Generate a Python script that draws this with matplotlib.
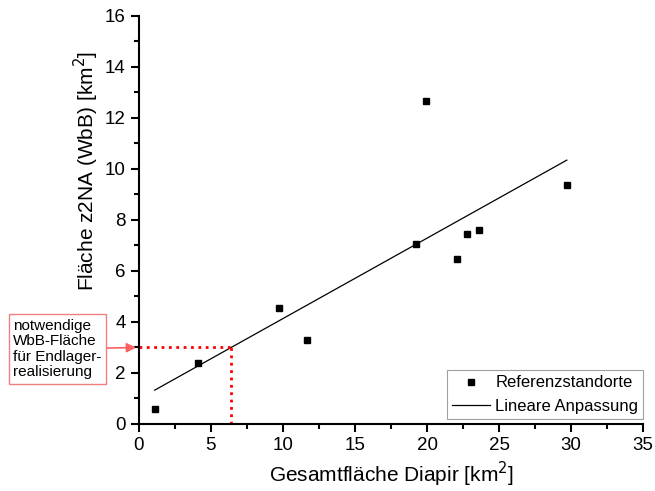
import numpy as np
import matplotlib.pyplot as plt
from matplotlib.ticker import MultipleLocator

plt.rcParams['font.family'] = ['Liberation Sans', 'DejaVu Sans']

# Referenzstandorte
gesamtflaeche = [1.1, 4.1, 9.7, 11.7, 19.2, 19.9, 22.1, 22.8, 23.6, 29.7]
flaeche_z2na = [0.59, 2.40, 4.55, 3.29, 7.07, 12.68, 6.48, 7.46, 7.60, 9.37]
bedarf = 3.0

x = np.array(gesamtflaeche)
y = np.array(flaeche_z2na)
m, b = np.polyfit(x, y, 1)
xs = np.array([x.min(), x.max()])
x_bedarf = (bedarf - b) / m

fig = plt.figure(figsize=(6.55, 4.91), dpi=100)
ax = fig.add_axes([0.212, 0.1365, 0.770, 0.831])

ax.plot(x, y, 's', color='black', markersize=4, label='Referenzstandorte')
ax.plot(xs, m * xs + b, '-', color='black', lw=0.9, label='Lineare Anpassung')
ax.plot([0, x_bedarf], [bedarf, bedarf], ':', color='red', lw=2)
ax.plot([x_bedarf, x_bedarf], [0, bedarf], ':', color='red', lw=2)

ax.set_xlim(0, 35)
ax.set_ylim(0, 16)
ax.xaxis.set_major_locator(MultipleLocator(5))
ax.xaxis.set_minor_locator(MultipleLocator(2.5))
ax.yaxis.set_major_locator(MultipleLocator(2))
ax.yaxis.set_minor_locator(MultipleLocator(1))
for s in ['top', 'right']:
    ax.spines[s].set_visible(False)
for s in ['left', 'bottom']:
    ax.spines[s].set_linewidth(1.5)
ax.tick_params(which='major', length=6, width=1.5, labelsize=13.5)
ax.tick_params(which='minor', length=3.5, width=1.5)

ax.set_xlabel('Gesamtfläche Diapir [km$^2$]', fontsize=15, labelpad=4)
ax.set_ylabel('Fläche z2NA (WbB) [km$^2$]', fontsize=15)
ax.yaxis.set_label_coords(-0.075, 0.62)

leg = ax.legend(loc='lower right', fontsize=12, frameon=True, fancybox=False,
                borderpad=0.3, handlelength=2.3, handletextpad=0.3,
                borderaxespad=0.0, bbox_to_anchor=(1.0, 0.013))
leg.get_frame().set_edgecolor('#888888')
leg.get_frame().set_linewidth(0.8)

ax.annotate('notwendige\nWbB-Fläche\nfür Endlager-\nrealisierung',
            xy=(0, bedarf), xycoords='data',
            xytext=(0.02, 1 - 349 / 491), textcoords='figure fraction',
            va='center', ha='left', fontsize=11, linespacing=1.15,
            bbox=dict(boxstyle='square,pad=0.3', fc='white', ec='#f08080', lw=1),
            arrowprops=dict(arrowstyle='-|>', color='#ff6060', lw=1.2,
                            mutation_scale=14, shrinkA=0, shrinkB=2),
            annotation_clip=False)

fig.savefig('out.png', dpi=100)
